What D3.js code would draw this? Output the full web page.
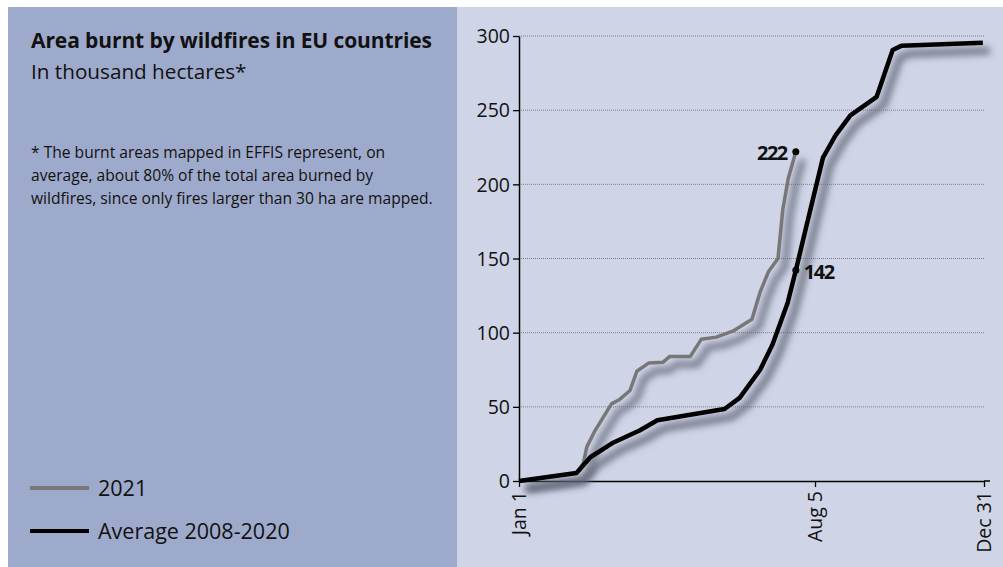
<!DOCTYPE html>
<html>
<head>
<meta charset="utf-8">
<script src="https://cdn.jsdelivr.net/npm/d3@7"></script>
<style>
  body { margin: 0; background: #fff; }
  svg { display: block; font-family: "Open Sans", "Noto Sans", sans-serif; }
</style>
</head>
<body>
<svg id="chart" width="1003" height="567"></svg>
<script>
// day of year (Jan 1 = 0) and cumulative burnt area, thousand ha
const avgDays   = [0, 42, 52, 69, 88, 101, 150, 161, 176, 185, 196, 202, 209, 223, 234, 247, 270, 284, 292, 363];
const avgValues = [0, 5.4, 16, 26, 34, 41, 48.5, 56, 75, 92, 120, 142, 169, 218, 233, 246.5, 259, 290.5, 293.5, 295.5];

const y2021Days   = [0, 42, 47, 49.5, 55.5, 67.5, 73.5, 81, 86, 94.5, 105, 110, 125, 133, 144, 156, 170, 176, 182, 189, 192.5, 196.5, 202];
const y2021Values = [0, 5.4, 12, 23, 34, 52, 55, 61, 74, 79.5, 80, 84, 84, 95.5, 97, 101, 109, 127.5, 141, 150, 183, 204, 222];

const xTickDays   = [0, 216, 364];
const xTickLabels = ["Jan 1", "Aug 5", "Dec 31"];
const yTicks      = [0, 50, 100, 150, 200, 250, 300];

const svg = d3.select("#chart");

const defs = svg.append("defs");
defs.append("filter")
    .attr("id", "shadow")
    .attr("x", "-10%").attr("y", "-10%")
    .attr("width", "120%").attr("height", "120%")
    .append("feGaussianBlur")
    .attr("stdDeviation", 3.5);

// panels
svg.append("rect").attr("x", 8).attr("y", 7).attr("width", 449).attr("height", 560).attr("fill", "#9eaacb");
svg.append("rect").attr("x", 457).attr("y", 7).attr("width", 546).attr("height", 560).attr("fill", "#cfd5e7");

// left text
svg.append("text").attr("x", 31).attr("y", 48)
    .attr("font-size", 21).attr("font-weight", "bold").attr("fill", "#111")
    .attr("letter-spacing", -0.1)
    .text("Area burnt by wildfires in EU countries");
svg.append("text").attr("x", 31).attr("y", 79)
    .attr("font-size", 20.7).attr("fill", "#111")
    .text("In thousand hectares*");

const note = [
    "* The burnt areas mapped in EFFIS represent, on",
    "average, about 80% of the total area burned by",
    "wildfires, since only fires larger than 30 ha are mapped."
];
svg.append("g").selectAll("text")
    .data(note)
    .enter().append("text")
    .attr("x", 31)
    .attr("y", (d, i) => 158 + i * 23)
    .attr("font-size", 15.6)
    .attr("fill", "#111")
    .text(d => d);

// legend
const legend = [
    {name: "2021", color: "#777", width: 4},
    {name: "Average 2008-2020", color: "#000", width: 4}
];
const lg = svg.append("g").selectAll("g")
    .data(legend)
    .enter().append("g")
    .attr("transform", (d, i) => `translate(30,${488 + i * 43})`);
lg.append("line").attr("x1", 0).attr("x2", 59)
    .attr("stroke", d => d.color).attr("stroke-width", d => d.width);
lg.append("text").attr("x", 68).attr("y", 8)
    .attr("font-size", 21.5).attr("fill", "#111")
    .text(d => d.name);

// scales
const x = d3.scaleLinear().domain([0, 216, 364]).range([519, 815, 984]);
const y = d3.scaleLinear().domain([0, 300]).range([481, 36]);

// grid
svg.append("g").selectAll("line")
    .data(yTicks.slice(1))
    .enter().append("line")
    .attr("x1", 519).attr("x2", 985)
    .attr("y1", d => y(d)).attr("y2", d => y(d))
    .attr("stroke", "#7a7f8c").attr("stroke-width", 1)
    .attr("stroke-dasharray", "1,1");

// axes
const yAxis = svg.append("g")
    .attr("transform", "translate(519,0)")
    .call(d3.axisLeft(y).tickValues(yTicks).tickSize(6).tickSizeOuter(0).tickPadding(3));
yAxis.select(".domain").attr("stroke", "#000").attr("stroke-width", 1.5);
yAxis.selectAll(".tick line").attr("stroke", "#000").attr("stroke-width", 1.3);
yAxis.selectAll("text").attr("font-size", 19.5).attr("fill", "#111")
    .attr("font-family", "'Open Sans', sans-serif").attr("dy", "0.35em");

const xAxis = svg.append("g")
    .attr("transform", "translate(0,481)")
    .call(d3.axisBottom(x).tickValues(xTickDays)
        .tickFormat((d, i) => xTickLabels[i]).tickSize(6).tickSizeOuter(0));
xAxis.select(".domain").attr("stroke", "#000").attr("stroke-width", 1.5);
xAxis.selectAll(".tick line").attr("stroke", "#000").attr("stroke-width", 1.3);
xAxis.selectAll("text")
    .attr("font-size", 19.5).attr("fill", "#111")
    .attr("font-family", "'Open Sans', sans-serif")
    .attr("text-anchor", "end")
    .attr("transform", "rotate(-90)")
    .attr("x", -10).attr("y", 0).attr("dy", "0.35em");
svg.append("line").attr("x1", 984).attr("x2", 990).attr("y1", 481).attr("y2", 481)
    .attr("stroke", "#000").attr("stroke-width", 1.5);

// lines
const line = d3.line()
    .x(d => x(d[0]))
    .y(d => y(d[1]));

const series = [
    {pts: d3.zip(y2021Days, y2021Values), color: "#777", width: 3.5},
    {pts: d3.zip(avgDays, avgValues), color: "#000", width: 4.5}
];

series.forEach(s => {
    svg.append("path")
        .attr("d", line(s.pts))
        .attr("transform", "translate(7,8)")
        .attr("fill", "none")
        .attr("stroke", "#5d6272")
        .attr("stroke-opacity", 0.8)
        .attr("stroke-width", s.width + 3)
        .attr("stroke-linejoin", "round")
        .attr("filter", "url(#shadow)");
});
series.forEach(s => {
    svg.append("path")
        .attr("d", line(s.pts))
        .attr("fill", "none")
        .attr("stroke", s.color)
        .attr("stroke-width", s.width)
        .attr("stroke-linejoin", "round");
});

// end markers
const endDay2021 = y2021Days[y2021Days.length - 1];
const endVal2021 = y2021Values[y2021Values.length - 1];
const avgAtEnd = avgValues[avgDays.indexOf(202)];
const marks = [
    {d: endDay2021, v: endVal2021, dx: -9, anchor: "end", dy: 8},
    {d: 202, v: avgAtEnd, dx: 8, anchor: "start", dy: 9}
];
svg.append("g").selectAll("circle")
    .data(marks)
    .enter().append("circle")
    .attr("cx", d => x(d.d)).attr("cy", d => y(d.v)).attr("r", 3.5).attr("fill", "#000");
svg.append("g").selectAll("text")
    .data(marks)
    .enter().append("text")
    .attr("x", d => x(d.d) + d.dx).attr("y", d => y(d.v) + d.dy)
    .attr("text-anchor", d => d.anchor)
    .attr("font-size", 20).attr("font-weight", "bold").attr("fill", "#111")
    .attr("letter-spacing", -1.5)
    .text(d => Math.round(d.v));
</script>
</body>
</html>
